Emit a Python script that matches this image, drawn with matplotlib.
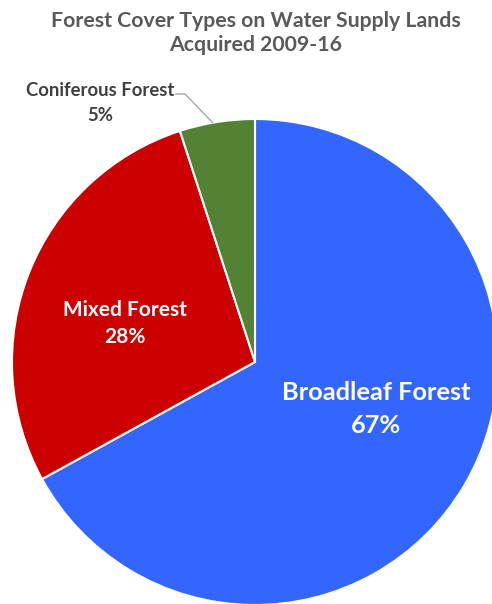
import matplotlib
matplotlib.use("Agg")
import matplotlib.pyplot as plt

# Chart data
categories = ["Broadleaf Forest", "Mixed Forest", "Coniferous Forest"]
shares = [67, 28, 5]
colors = ["#3366FF", "#CC0000", "#548235"]
title_lines = ["Forest Cover Types on Water Supply Lands", "Acquired 2009-16"]

W, H = 492, 604
plt.rcParams["font.family"] = ["Lato", "DejaVu Sans"]

fig = plt.figure(figsize=(W / 100, H / 100), dpi=100)
ax = fig.add_axes([0, 0, 1, 1])


def py(y):
    """Convert a top-down pixel row into data y."""
    return H - y


cx, cy, r = 255, py(362), 243
ax.pie(shares, colors=colors, startangle=90, counterclock=False,
       center=(cx, cy), radius=r, frame=True,
       wedgeprops=dict(edgecolor="white", linewidth=1.5))
ax.set_xlim(0, W)
ax.set_ylim(0, H)
ax.set_aspect("equal")
ax.axis("off")

# Title
title_color = "#595959"
ax.text(256, py(27), title_lines[0], ha="center", va="baseline",
        fontsize=15.3, fontweight="bold", color=title_color)
ax.text(256, py(51), title_lines[1], ha="center", va="baseline",
        fontsize=15.3, fontweight="bold", color=title_color)


# Slice labels
def label(x, y1, y2, name, pct, size, color):
    ax.text(x, py(y1), name, ha="center", va="baseline",
            fontsize=size, fontweight="bold", color=color)
    ax.text(x, py(y2), f"{pct}%", ha="center", va="baseline",
            fontsize=size, fontweight="bold", color=color)


label(376, 400, 433, categories[0], shares[0], 18.3, "white")
label(125, 316, 343, categories[1], shares[1], 15, "white")
label(100, 96, 121, categories[2], shares[2], 13.3, "#404040")

# Leader line for the small slice
ax.plot([175, 185, 213], [py(94), py(94), py(123)], color="#A6A6A6",
        linewidth=1.0, solid_capstyle="butt")

fig.savefig("out.png", dpi=100, facecolor="white")
